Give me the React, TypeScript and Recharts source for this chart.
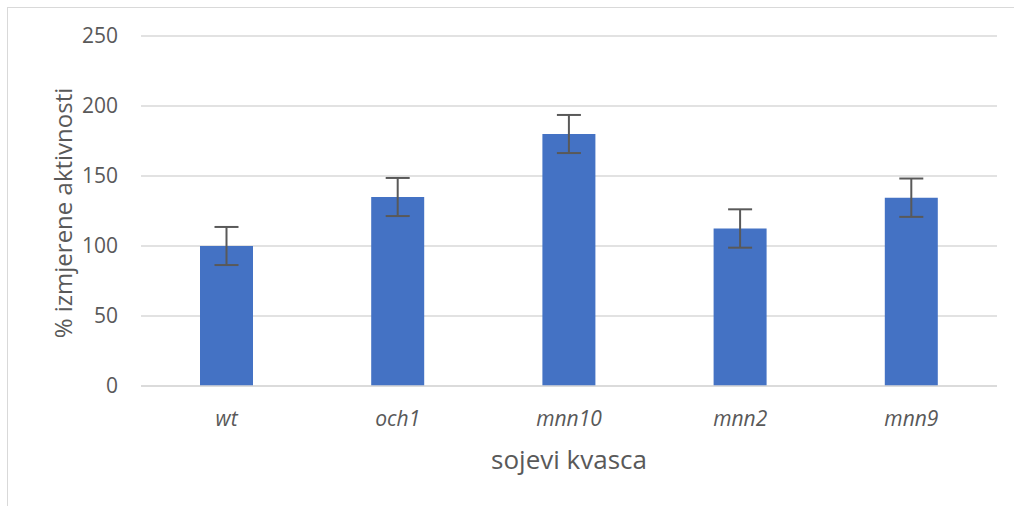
import { BarChart, Bar, XAxis, YAxis, CartesianGrid, ErrorBar, Label } from "recharts";

const strains = ["wt", "och1", "mnn10", "mnn2", "mnn9"];
const activity = [100, 135, 180, 112.5, 134.5];
const errors = [13.6, 13.6, 13.6, 13.7, 13.7];
const yTicks = [0, 50, 100, 150, 200, 250];

const data = strains.map((s, i) => ({ strain: s, value: activity[i], err: errors[i] }));

const FONT = "'Open Sans', sans-serif";
const GREY = "#595959";

export default function App() {
  return (
    <div style={{ position: "absolute", left: 0, top: 0, width: 1014, height: 506, background: "#fff", fontFamily: FONT }}>
      <div
        style={{
          position: "absolute",
          left: 7,
          top: 7,
          width: 1007,
          height: 499,
          borderLeft: "1px solid #D9D9D9",
          borderTop: "1px solid #D9D9D9",
        }}
      />
      <BarChart
        width={1014}
        height={506}
        data={data}
        margin={{ top: 36, right: 17, bottom: 0, left: 0 }}
        style={{ position: "absolute", left: 0, top: 0 }}
      >
        <CartesianGrid vertical={false} stroke="#D9D9D9" strokeWidth={1.5} />
        <XAxis
          dataKey="strain"
          height={120}
          axisLine={{ stroke: "#D9D9D9", strokeWidth: 1.5 }}
          tickLine={false}
          tickSize={0}
          tickMargin={25}
          tick={{ fill: GREY, fontSize: 21, fontStyle: "italic", fontFamily: FONT }}
        >
          <Label
            value="sojevi kvasca"
            position="insideBottom"
            offset={37}
            style={{ fill: GREY, fontSize: 26, fontFamily: FONT }}
          />
        </XAxis>
        <YAxis
          width={141}
          domain={[0, 250]}
          ticks={yTicks}
          axisLine={false}
          tickLine={false}
          tickSize={0}
          tickMargin={23}
          tick={{ fill: GREY, fontSize: 21, fontFamily: FONT }}
        >
          <Label
            content={() => (
              <text
                x={62}
                y={213}
                transform="rotate(-90, 62, 213)"
                textAnchor="middle"
                dominantBaseline="central"
                fill={GREY}
                fontSize={24}
                fontFamily={FONT}
              >
                % izmjerene aktivnosti
              </text>
            )}
          />
        </YAxis>
        <Bar dataKey="value" fill="#4472C4" barSize={53} isAnimationActive={false}>
          <ErrorBar dataKey="err" width={12} stroke={GREY} strokeWidth={2} isAnimationActive={false} />
        </Bar>
      </BarChart>
    </div>
  );
}
